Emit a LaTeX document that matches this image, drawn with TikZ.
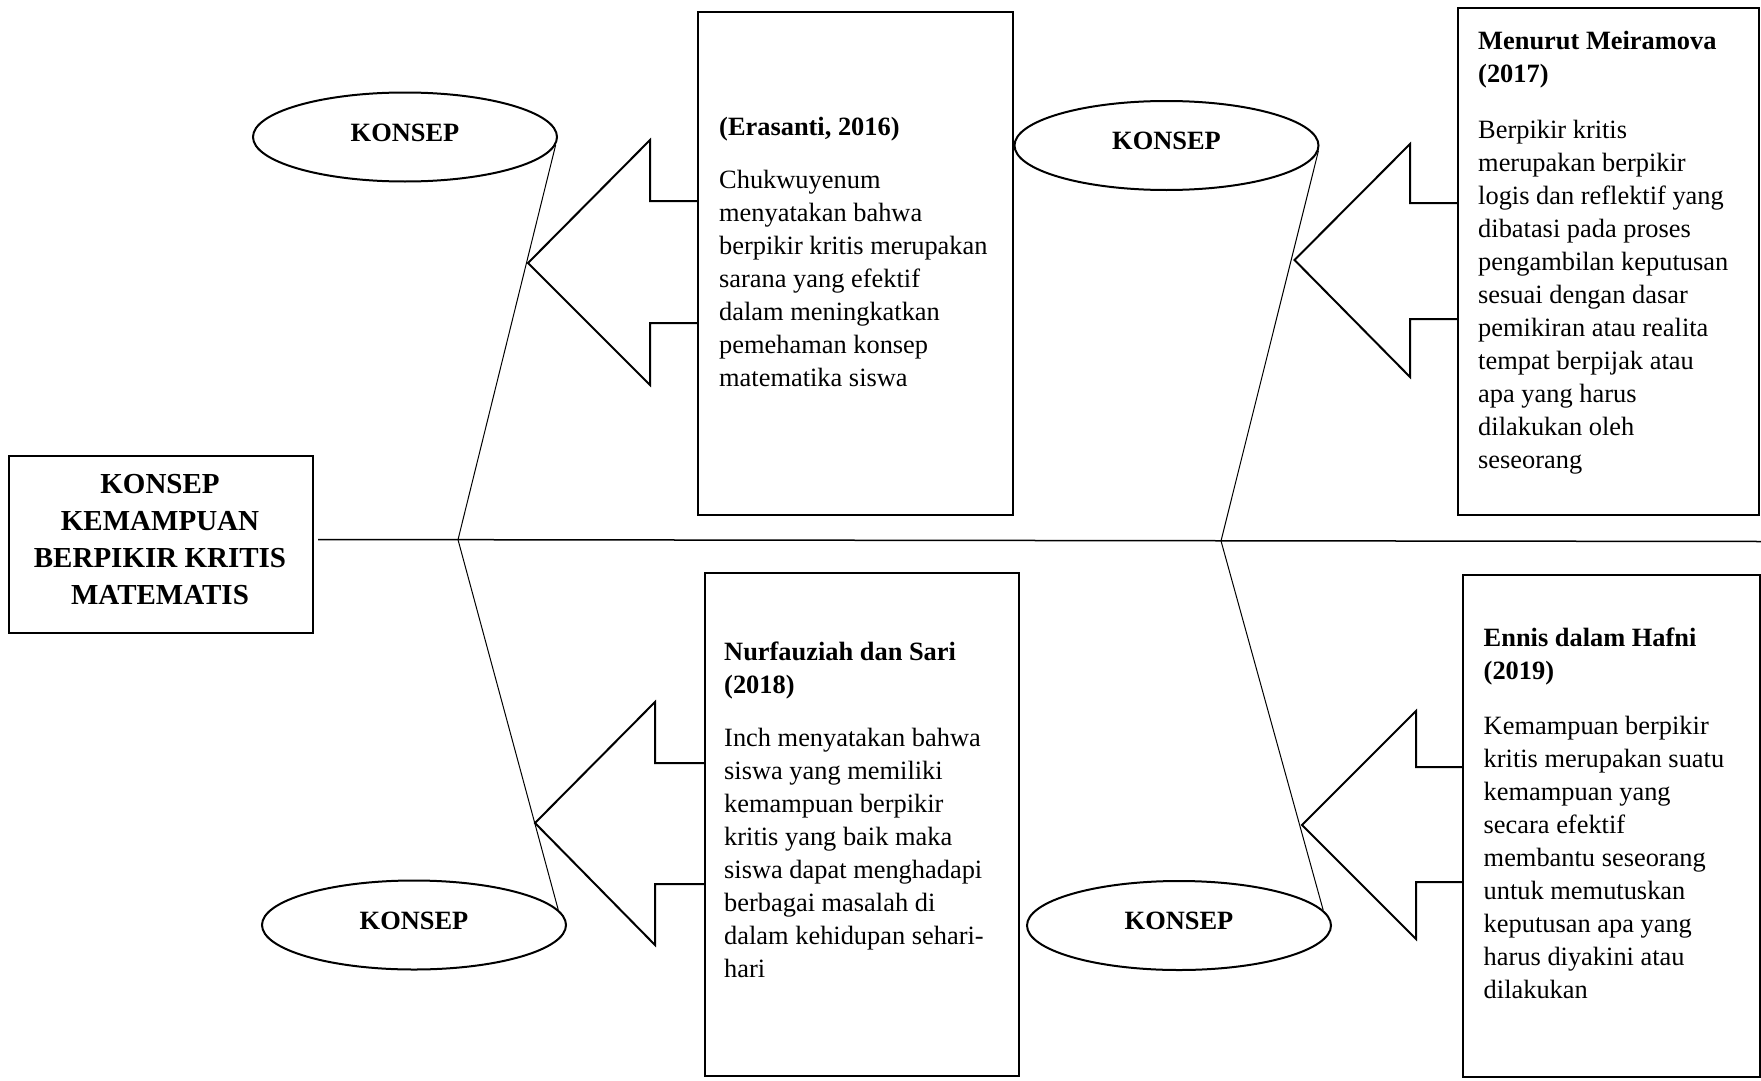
\documentclass[tikz,border=0pt]{standalone}
\usepackage{fontspec}
\setmainfont{Liberation Serif}
\usetikzlibrary{shapes.geometric}
\begin{document}
\begin{tikzpicture}[x=1pt,y=-1pt,
  box/.style={draw, line width=2pt, rectangle, inner sep=0pt, anchor=north west},
  konsep/.style={draw, ellipse, line width=2pt, minimum width=304pt, minimum height=89pt,
    inner sep=0pt, font=\fontsize{26.4}{33}\selectfont\bfseries, text height=17pt, text depth=8.4pt},
  bodytext/.style={inner sep=0pt, anchor=north west, align=left, font=\fontsize{26.4}{33}\selectfont},
  maintext/.style={inner sep=0pt, anchor=north, align=center, font=\fontsize{29}{37}\selectfont\bfseries},
  bone/.style={line width=1pt},
  spine/.style={line width=1.5pt},
  pointer/.style={line width=2pt, line join=miter}]
\useasboundingbox (0,0) rectangle (1761,1081);
\fill[white] (0,0) rectangle (1761,1081);

% main box
\node[box, minimum width=304pt, minimum height=177pt] (m) at (8,455) {};
\node[maintext] (mt) at (160,467.6) {\strut KONSEP\\KEMAMPUAN\\BERPIKIR KRITIS\\MATEMATIS};

% spine
\coordinate (s0) at (318,539.5);
\coordinate (s1) at (1761,541.5);
\draw[spine] (s0) -- (s1);

% text boxes
\node[box, minimum width=315pt, minimum height=503pt] (b1) at (697,11) {};
\node[box, minimum width=301pt, minimum height=507pt] (b2) at (1457,7) {};
\node[box, minimum width=314pt, minimum height=503pt] (b3) at (704,572) {};
\node[box, minimum width=297pt, minimum height=502pt] (b4) at (1462,574) {};

\node[bodytext] (t1) at (719,111.9) {\strut\textbf{(Erasanti, 2016)}\\[20pt]
  Chukwuyenum\\ menyatakan bahwa\\ berpikir kritis merupakan\\ sarana yang efektif\\
  dalam meningkatkan\\ pemehaman konsep\\ matematika siswa};
\node[bodytext] (t2) at (1478,25.9) {\strut\textbf{Menurut Meiramova}\\ \textbf{(2017)}\\[23pt]
  Berpikir kritis\\ merupakan berpikir\\ logis dan reflektif yang\\ dibatasi pada proses\\
  pengambilan keputusan\\ sesuai dengan dasar\\ pemikiran atau realita\\ tempat berpijak atau\\
  apa yang harus\\ dilakukan oleh\\ seseorang};
\node[bodytext] (t3) at (724,636.9) {\strut\textbf{Nurfauziah dan Sari}\\ \textbf{(2018)}\\[20pt]
  Inch menyatakan bahwa\\ siswa yang memiliki\\ kemampuan berpikir\\ kritis yang baik maka\\
  siswa dapat menghadapi\\ berbagai masalah di\\ dalam kehidupan sehari-\\ hari};
\node[bodytext] (t4) at (1483.5,622.9) {\strut\textbf{Ennis dalam Hafni}\\ \textbf{(2019)}\\[22pt]
  Kemampuan berpikir\\ kritis merupakan suatu\\ kemampuan yang\\ secara efektif\\
  membantu seseorang\\ untuk memutuskan\\ keputusan apa yang\\ harus diyakini atau\\ dilakukan};

% ellipses
\node[konsep] (e1) at (405,137) {KONSEP};
\node[konsep] (e2) at (1166.5,145.5) {KONSEP};
\node[konsep] (e3) at (414,925) {KONSEP};
\node[konsep] (e4) at (1179,925.5) {KONSEP};

% bones
\coordinate (jl) at (458,539.7);
\coordinate (jr) at (1221,540.9);
\draw[bone] (jl) -- (e1.-3);
\draw[bone] (jl) -- (e3.6);
\draw[bone] (jr) -- (e2.-2);
\draw[bone] (jr) -- (e4.6);

% arrow shapes
\draw[pointer] (697,201) -- (650,201) -- (650,140) -- (528,263) -- (650,385) -- (650,323) -- (697,323);
\draw[pointer] (1457,203) -- (1410,203) -- (1410,144) -- (1294.5,260) -- (1410,377) -- (1410,319) -- (1457,319);
\draw[pointer] (704,763) -- (655,763) -- (655,702) -- (535,823) -- (655,945) -- (655,884) -- (704,884);
\draw[pointer] (1462,767) -- (1416,767) -- (1416,711) -- (1302,825) -- (1416,939) -- (1416,882) -- (1462,882);
\end{tikzpicture}
\end{document}
